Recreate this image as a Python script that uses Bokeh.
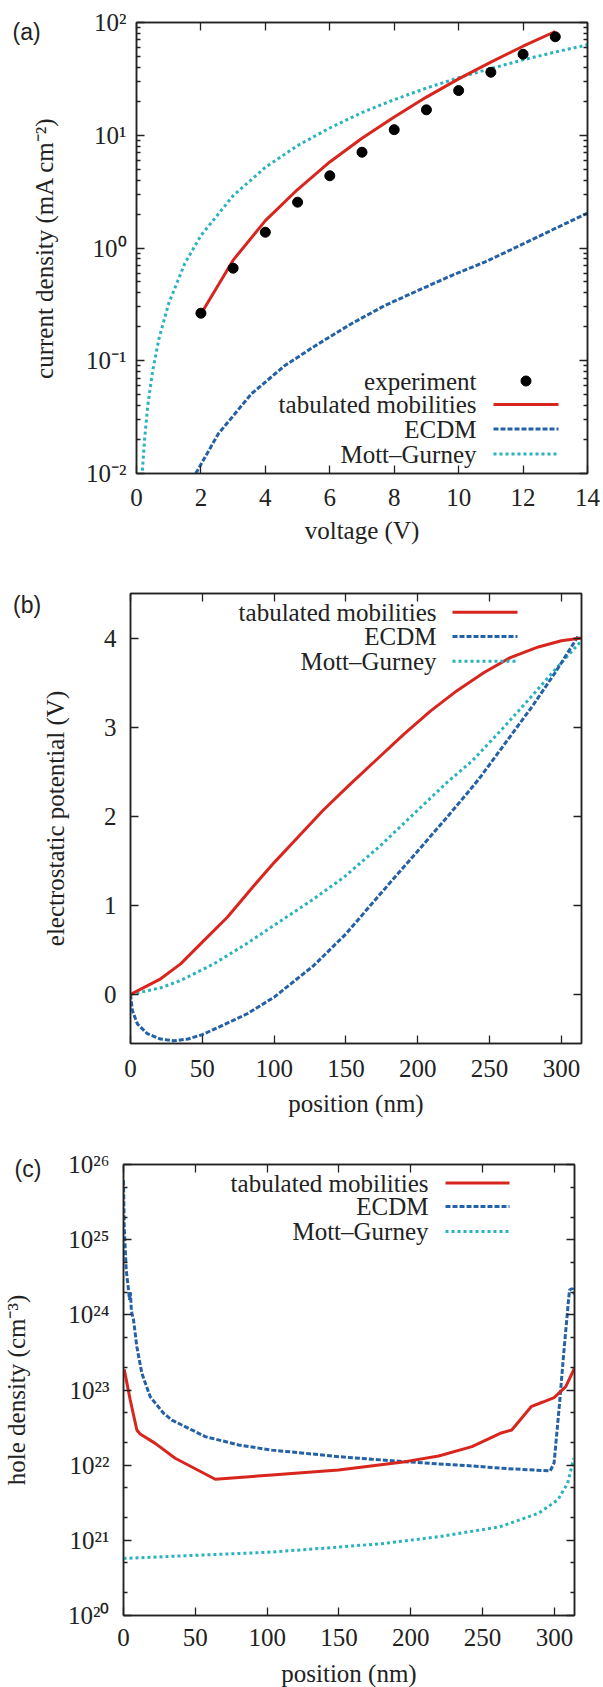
from bokeh.plotting import figure
from bokeh.models import (LinearAxis, LogAxis, FixedTicker, CustomJSTickFormatter,
                          Label, Arrow, BoxAnnotation, Range1d)
from bokeh.embed import file_html
from bokeh.resources import INLINE

# ---------------- data: panel (a) current density vs voltage ----------------
voltage_exp = [2, 3, 4, 5, 6, 7, 8, 9, 10, 11, 12, 13]
current_exp = [0.264, 0.662, 1.38, 2.55, 4.37, 7.07, 11.2, 16.8, 24.9, 36.2, 52.3, 74.7]

voltage_tab = [2, 3, 4, 5, 6, 7, 8, 9, 10, 11, 12, 13]
current_tab = [0.26, 0.78, 1.75, 3.3, 5.8, 9.4, 14.5, 21.8, 31.6, 44.5, 61.6, 83.2]

voltage_ecdm = [1.84, 2.54, 3.57, 4.61, 5.64, 6.67, 7.71, 8.74, 9.78, 10.81, 11.64, 13.0, 14.0]
current_ecdm = [0.0100, 0.0225, 0.051, 0.0908, 0.141, 0.213, 0.309, 0.42, 0.57, 0.75, 0.97, 1.49, 2.04]

voltage_mg = [0.17, 0.25, 0.35, 0.5, 0.7, 1.0, 1.5, 2, 3, 4, 5, 6, 7, 8, 9, 10, 11, 12, 13, 14]
current_mg = [0.0094, 0.020, 0.040, 0.081, 0.158, 0.323, 0.73, 1.29, 2.91, 5.2, 8.1, 11.6,
              15.9, 20.7, 26.2, 32.4, 39.1, 46.6, 54.7, 63.4]

# ---------------- data: panel (b) electrostatic potential vs position ----------------
pos_tab_b = [0, 21, 34.9, 50, 67.4, 85.9, 100, 118, 134.3, 153, 170.3, 190.2, 208.8, 227.3,
             245.9, 264.4, 284, 300, 314]
pot_tab_b = [0, 0.176, 0.344, 0.587, 0.867, 1.22, 1.48, 1.79, 2.07, 2.36, 2.62, 2.92, 3.18, 3.41,
             3.61, 3.78, 3.90, 3.97, 4.0]

pos_ecdm_b = [0, 1.3, 4.8, 11.7, 21, 30, 40, 50, 65, 81.3, 100, 127.6, 150, 174, 200, 220.4,
              236.6, 243.6, 260, 280, 296, 312]
pot_ecdm_b = [0, -0.18, -0.33, -0.44, -0.50, -0.52, -0.50, -0.45, -0.34, -0.216, -0.03, 0.325,
              0.68, 1.13, 1.61, 1.99, 2.30, 2.44, 2.80, 3.24, 3.62, 4.03]

pos_mg_b = [0, 21, 34.9, 58.1, 81.3, 99.8, 127.6, 148.5, 174, 197.2, 220.4, 237.8, 260, 280, 297, 314]
pot_mg_b = [0, 0.075, 0.157, 0.344, 0.575, 0.774, 1.073, 1.315, 1.67, 2.026, 2.38, 2.62, 3.0,
            3.36, 3.67, 3.97]

# ---------------- data: panel (c) hole density vs position ----------------
pos_tab_c = [0.5, 4.7, 9.3, 11.6, 22.1, 36, 63.9, 103.3, 149.7, 196.2, 219.4, 242.6, 262.3,
             270.3, 277, 283.8, 292, 299.8, 307.9, 314]
dens_tab_c = [1.88e23, 7.36e22, 2.94e22, 2.60e22, 1.95e22, 1.236e22, 6.50e21, 7.41e21, 8.65e21,
              1.114e22, 1.324e22, 1.762e22, 2.655e22, 2.94e22, 4.17e22, 6.0e22, 6.92e22, 7.94e22,
              1.107e23, 1.95e23]

pos_ecdm_c = [0, 0.5, 1.9, 3.5, 4.2, 4.8, 5.5, 7, 9.3, 12.8, 18.6, 27.9, 33.7, 56.9, 80.1, 103.3,
              126.5, 149.7, 173, 196.2, 219.4, 242.6, 262.3, 297.1, 299.8, 303.8, 306.5, 309.2,
              310.5, 312.5, 314]
dens_ecdm_c = [6.17e25, 1.479e25, 3.94e24, 2.14e24, 1.585e24, 2.0e24, 1.122e24, 8.51e23, 3.76e23,
               1.66e23, 8.13e22, 4.90e22, 3.98e22, 2.40e22, 1.858e22, 1.585e22, 1.439e22, 1.297e22,
               1.199e22, 1.114e22, 1.038e22, 9.77e21, 9.12e21, 8.38e21, 1.072e22, 7.36e22, 3.09e23,
               1.148e24, 2.14e24, 2.24e24, 1.862e24]

pos_mg_c = [0, 50, 100, 150, 182, 220, 262, 289, 302.5, 309.2, 313.5]
dens_mg_c = [5.75e20, 6.31e20, 6.92e20, 8.13e20, 9.12e20, 1.122e21, 1.514e21, 2.29e21, 3.47e21,
             5.75e21, 1.23e22]

# ---------------- tick labels ----------------
ticks_a_x = [0, 2, 4, 6, 8, 10, 12, 14]
ticks_a_y = [1e-2, 1e-1, 1e0, 1e1, 1e2]
ticks_b_x = [0, 50, 100, 150, 200, 250, 300]
ticks_b_y = [0, 1, 2, 3, 4]
ticks_c_x = [0, 50, 100, 150, 200, 250, 300]
ticks_c_y = [1e20, 1e21, 1e22, 1e23, 1e24, 1e25, 1e26]

legend_names = ["experiment", "tabulated mobilities", "ECDM", "Mott\u2013Gurney"]

# ---------------- style ----------------
SERIF = "Liberation Serif"
SANS = "Liberation Sans"
FS = "25px"
INK = "#222222"
RED, BLUE, CYAN = "#d8261f", "#2561a6", "#2bb3bd"
DASH = "5 2"
DOT = "3 3"
LW = 3

POW_CODE = """
const sup = {'-':'\u207b','0':'\u2070','1':'\u00b9','2':'\u00b2','3':'\u00b3','4':'\u2074',
             '5':'\u2075','6':'\u2076','7':'\u2077','8':'\u2078','9':'\u2079'};
const e = Math.round(Math.log10(tick));
return '10' + String(e).split('').map(c => sup[c]).join('');
"""


def style_axis(ax, labelled):
    ax.axis_line_color = INK
    ax.axis_line_width = 1.5
    ax.major_tick_line_color = INK
    ax.major_tick_line_width = 1.3
    ax.minor_tick_line_color = INK
    ax.minor_tick_line_width = 1.3
    ax.major_tick_in = 8
    ax.major_tick_out = 0
    ax.minor_tick_in = 4
    ax.minor_tick_out = 0
    if labelled:
        ax.major_label_text_font = SERIF
        ax.major_label_text_font_size = FS
        ax.major_label_text_color = INK
        ax.axis_label_text_font = SERIF
        ax.axis_label_text_font_size = FS
        ax.axis_label_text_font_style = "normal"
        ax.axis_label_text_color = INK
    else:
        ax.major_label_text_font_size = "0px"
        ax.major_label_standoff = 0
        ax.formatter = CustomJSTickFormatter(code="return '';")


def make_panel(xr, yr, ylog, xticks, yticks, yminor, borders, frame_h,
               xlabel, ylabel, ystand, xstand, ylab_stand, xlab_stand):
    left, top, right, bottom = borders
    p = figure(frame_width=451, frame_height=frame_h,
               x_range=Range1d(*xr), y_range=Range1d(*yr),
               y_axis_type="log" if ylog else "linear",
               output_backend="svg", toolbar_location=None,
               min_border_left=left, min_border_top=top,
               min_border_right=right, min_border_bottom=bottom)
    p.grid.grid_line_color = None
    p.outline_line_color = INK
    p.outline_line_width = 1.5
    p.background_fill_color = "white"

    xa = p.below[0]
    ya = p.left[0]
    xa.ticker = FixedTicker(ticks=xticks, minor_ticks=[])
    ya.ticker = FixedTicker(ticks=yticks, minor_ticks=yminor)
    style_axis(xa, True)
    style_axis(ya, True)
    xa.axis_label = xlabel
    ya.axis_label = ylabel
    xa.major_label_standoff = xstand
    ya.major_label_standoff = ystand
    xa.axis_label_standoff = xlab_stand
    ya.axis_label_standoff = ylab_stand
    if ylog:
        ya.formatter = CustomJSTickFormatter(code=POW_CODE)

    top_ax = LinearAxis(ticker=FixedTicker(ticks=xticks, minor_ticks=[]))
    right_ax = (LogAxis if ylog else LinearAxis)(ticker=FixedTicker(ticks=yticks, minor_ticks=yminor))
    style_axis(top_ax, False)
    style_axis(right_ax, False)
    p.add_layout(top_ax, "above")
    p.add_layout(right_ax, "right")
    return p


def panel_tag(p, text, x, y, side):
    # placed in a side panel so it is not clipped to the plot frame
    p.add_layout(Label(x=x, y=y, x_units="screen", y_units="screen", text=text,
                       text_font=SANS, text_font_size="23px", text_color=INK,
                       text_align="left", text_baseline="top"), side)


def legend(p, entries, x_text, x0, x1, ys):
    for (name, kind), y in zip(entries, ys):
        p.add_layout(Label(x=x_text, y=y, x_units="screen", y_units="screen", text=name,
                           text_font=SERIF, text_font_size=FS, text_color=INK,
                           text_align="right", text_baseline="middle"))
        if kind == "dot":
            xc = (x0 + x1) / 2
            p.add_layout(BoxAnnotation(left=xc - 5, right=xc + 5, bottom=y - 5, top=y + 5,
                                       left_units="screen", right_units="screen",
                                       bottom_units="screen", top_units="screen",
                                       fill_color="black", fill_alpha=1.0,
                                       line_color="black", line_alpha=1.0, border_radius=5))
        else:
            color, dash = {"tab": (RED, "solid"), "ecdm": (BLUE, DASH), "mg": (CYAN, DOT)}[kind]
            p.add_layout(Arrow(end=None, x_start=x0, y_start=y, x_end=x1, y_end=y,
                               start_units="screen", end_units="screen",
                               line_color=color, line_width=LW, line_dash=dash))


# ---------------- panel (a) ----------------
minor_a = [k * 10.0 ** e for e in range(-2, 2) for k in range(2, 10)]
pa = make_panel((0, 14), (0.01, 100), True, ticks_a_x, ticks_a_y, minor_a,
                (135, 22, 17, 80), 451,
                "voltage (V)", "current density (mA cm\u207b\u00b2)",
                ystand=10, xstand=15, ylab_stand=25, xlab_stand=8)
pa.line(voltage_mg, current_mg, line_color=CYAN, line_width=LW, line_dash=DOT)
pa.line(voltage_ecdm, current_ecdm, line_color=BLUE, line_width=LW, line_dash=DASH)
pa.line(voltage_tab, current_tab, line_color=RED, line_width=LW)
pa.scatter(voltage_exp, current_exp, size=10, color="black")
panel_tag(pa, "(a)", 12, 455, "left")
legend(pa, [(legend_names[0], "dot"), (legend_names[1], "tab"),
            (legend_names[2], "ecdm"), (legend_names[3], "mg")],
       340, 357, 422, [92.5, 69, 44.4, 19.4])

# ---------------- panel (b) ----------------
pb = make_panel((0, 314), (-0.55, 4.5), False, ticks_b_x, ticks_b_y, [],
                (130, 40, 22, 80), 450,
                "position (nm)", "electrostatic potential (V)",
                ystand=14, xstand=16, ylab_stand=32, xlab_stand=10)
pb.line(pos_mg_b, pot_mg_b, line_color=CYAN, line_width=LW, line_dash=DOT)
pb.line(pos_ecdm_b, pot_ecdm_b, line_color=BLUE, line_width=LW, line_dash=DASH)
pb.line(pos_tab_b, pot_tab_b, line_color=RED, line_width=LW)
panel_tag(pb, "(b)", 2.5, 452, "left")
legend(pb, [(legend_names[1], "tab"), (legend_names[2], "ecdm"), (legend_names[3], "mg")],
       306, 322, 387, [431.3, 407, 382.3])

# ---------------- panel (c) ----------------
minor_c = [k * 10.0 ** e for e in range(20, 26) for k in (2, 5)]
pc = make_panel((0, 314), (1e20, 1e26), True, ticks_c_x, ticks_c_y, minor_c,
                (123, 41, 29, 72), 451,
                "position (nm)", "hole density (cm\u207b\u00b3)",
                ystand=14, xstand=13, ylab_stand=35, xlab_stand=11)
pc.line(pos_mg_c, dens_mg_c, line_color=CYAN, line_width=LW, line_dash=DOT)
pc.line(pos_ecdm_c, dens_ecdm_c, line_color=BLUE, line_width=LW, line_dash=DASH)
pc.line(pos_tab_c, dens_tab_c, line_color=RED, line_width=LW)
panel_tag(pc, "(c)", -109, 9, "above")
legend(pc, [(legend_names[1], "tab"), (legend_names[2], "ecdm"), (legend_names[3], "mg")],
       305, 322, 386, [432.4, 409, 384])

open("out.html", "w").write(file_html([pa, pb, pc], INLINE))
